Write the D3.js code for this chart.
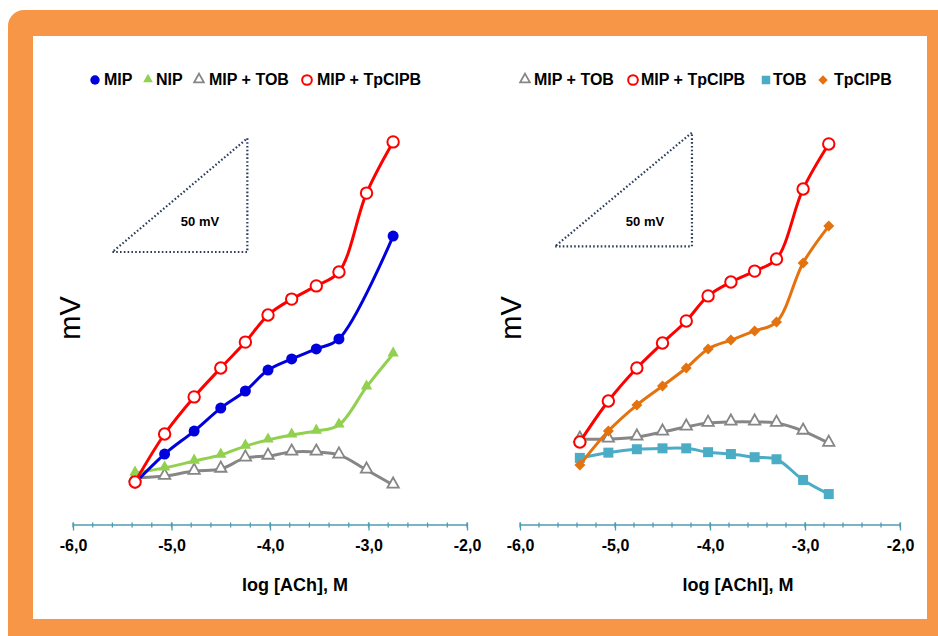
<!DOCTYPE html>
<html><head><meta charset="utf-8">
<script src="https://cdn.jsdelivr.net/npm/d3@7"></script>
<style>
body{margin:0;background:#fff;}
svg text{font-family:Arial,"Liberation Sans",sans-serif;}
</style>
</head><body>
<svg id="c" width="938" height="636"></svg>
<script>
// ---- data (log concentration, potential in mV) ----
const logC = [-5.37, -5.07, -4.77, -4.50, -4.25, -4.02, -3.78, -3.53, -3.30, -3.02, -2.75];
// left panel (ACh)
const mip       = [18.5, 31.2, 41.3, 51.4, 58.9, 68.1, 73.0, 77.4, 81.8, null, 127.0];
const nip       = [22.9, 25.1, 28.1, 30.8, 34.7, 37.4, 39.6, 41.3, 44.0, 60.7, 75.2];
const mipTobL   = [20.7, 21.5, 23.7, 24.6, 29.5, 30.3, 32.1, 32.1, 30.8, 24.2, 17.6];
const mipTpL    = [18.9, 40.0, 56.3, 69.0, 80.4, 92.3, 99.3, 105.1, 111.2, 145.9, 168.4];
// right panel (AChI)
const mipTobR   = [37.8, 37.8, 38.7, 40.9, 43.1, 44.8, 45.3, 45.3, 44.8, 41.3, 36.0];
const mipTpR    = [36.5, 54.5, 69.0, 80.0, 89.7, 100.7, 106.8, 111.6, 116.9, 147.7, 167.5];
const tob       = [29.5, 31.8, 33.3, 33.7, 33.7, 32.0, 31.2, 29.8, 28.9, 19.8, 13.6];
const tpclpb    = [26.4, 41.3, 52.7, 61.1, 69.0, 77.4, 81.3, 85.3, 89.2, 115.2, 131.4];
// axis ticks
const xMajor = [-6, -5, -4, -3, -2];
const xMinor = d3.range(0, 21).map(i => -6 + i * 0.2);
// slope triangles (50 mV)
const triLeft  = {x0: -5.60, x1: -4.23, y0: 120, y1: 170};
const triRight = {x0: -5.63, x1: -4.19, y0: 122.5, y1: 172.5};
const legendLeft  = ["MIP", "NIP", "MIP + TOB", "MIP + TpClPB"];
const legendRight = ["MIP + TOB", "MIP + TpClPB", "TOB", "TpClPB"];

const svg = d3.select("#c");
// frame
svg.append("rect").attr("x", 8).attr("y", 10).attr("width", 980).attr("height", 680)
  .attr("rx", 16).attr("fill", "#F79646");
svg.append("rect").attr("x", 33).attr("y", 36).attr("width", 894).attr("height", 583)
  .attr("fill", "#fff");

const y = d3.scaleLinear().domain([0, 180]).range([525, 525 - 180 * 2.275]);

const COL = {red: "#FF0000", blue: "#0000DD", green: "#92D050", gray: "#868686", teal: "#4BACC6", orange: "#E4720F"};

function marker(g, type, color, cx, cy, s) {
  s = s || 1;
  if (type === "circleF") g.append("circle").attr("cx", cx).attr("cy", cy).attr("r", 5.5 * s).attr("fill", color);
  else if (type === "circleO") g.append("circle").attr("cx", cx).attr("cy", cy).attr("r", 5.7 * s).attr("fill", "#fff").attr("stroke", color).attr("stroke-width", 2);
  else if (type === "triF" || type === "triO") {
    const p = `M${cx},${cy - 7.5 * s}L${cx + 5.7 * s},${cy + 2.7 * s}L${cx - 5.7 * s},${cy + 2.7 * s}Z`;
    const e = g.append("path").attr("d", p);
    if (type === "triF") e.attr("fill", color);
    else e.attr("fill", "#fff").attr("stroke", color).attr("stroke-width", 1.8);
  } else if (type === "square") g.append("rect").attr("x", cx - 5 * s).attr("y", cy - 5 * s).attr("width", 10 * s).attr("height", 10 * s).attr("fill", color);
  else if (type === "diamond") g.append("path").attr("d", `M${cx},${cy - 5.5 * s}L${cx + 5.5 * s},${cy}L${cx},${cy + 5.5 * s}L${cx - 5.5 * s},${cy}Z`).attr("fill", color);
}

function panel(opt) {
  const x = d3.scaleLinear().domain([-6, -2]).range(opt.xr);
  const g = svg.append("g");
  const axisCol = "#4E9DAF";
  // axis line
  g.append("line").attr("x1", x(-6)).attr("x2", x(-2)).attr("y1", 525).attr("y2", 525)
    .attr("stroke", axisCol).attr("stroke-width", 1.5);
  g.selectAll(".mn").data(xMinor).join("line")
    .attr("x1", d => x(d)).attr("x2", d => x(d)).attr("y1", 522.5).attr("y2", 527.5)
    .attr("stroke", axisCol).attr("stroke-width", 1.3);
  const ax = d3.axisBottom(x).tickValues(xMajor).tickSize(5.5).tickFormat(d => d.toFixed(1).replace(".", ","));
  const ag = g.append("g").attr("transform", "translate(0,525)").call(ax);
  ag.select(".domain").remove();
  ag.selectAll(".tick line").attr("y1", -2.5).attr("stroke", axisCol).attr("stroke-width", 1.3);
  ag.selectAll(".tick text").attr("y", 25.5).attr("dy", 0).attr("font-size", 16).attr("font-weight", "bold")
    .attr("fill", "#000").attr("font-family", "Arial, 'Liberation Sans', sans-serif");
  // titles
  g.append("text").attr("x", opt.titleX).attr("y", 591).attr("text-anchor", "middle")
    .attr("font-size", 18).attr("font-weight", "bold").text(opt.title);
  g.append("text").attr("transform", `translate(${opt.mvX},318) rotate(-90)`).attr("text-anchor", "middle")
    .attr("font-size", 29).text("mV");
  // slope triangle
  const t = opt.tri;
  g.append("path").attr("d", `M${x(t.x0)},${y(t.y0)}L${x(t.x1)},${y(t.y0)}L${x(t.x1)},${y(t.y1)}Z`)
    .attr("fill", "none").attr("stroke", "#2B3E5A").attr("stroke-width", 2.2).attr("stroke-dasharray", "1.6,2.2");
  g.append("text").attr("x", opt.mvTextX).attr("y", 226).attr("text-anchor", "middle")
    .attr("font-size", 13).attr("font-weight", "bold").text("50 mV");
  // series
  const line = d3.line().x(d => x(d[0])).y(d => y(d[1])).curve(d3.curveCatmullRom.alpha(0.5));
  opt.series.forEach(s => {
    const pts = logC.map((c, i) => [c, s.vals[i]]).filter(d => d[1] != null);
    g.append("path").attr("d", line(pts)).attr("fill", "none").attr("stroke", s.color).attr("stroke-width", 3);
    pts.forEach(d => marker(g, s.type, s.color, x(d[0]), y(d[1])));
  });
  // legend
  opt.legend.forEach(l => {
    marker(g, l.type, l.color, l.mx, 80, 0.85);
    g.append("text").attr("x", l.tx).attr("y", 85).attr("font-size", 16).attr("font-weight", "bold").text(l.label);
  });
}

panel({
  xr: [73, 467], title: "log [ACh], M", titleX: 295, mvX: 80, tri: triLeft, mvTextX: 200,
  series: [
    {vals: mipTobL, color: COL.gray, type: "triO"},
    {vals: nip, color: COL.green, type: "triF"},
    {vals: mip, color: COL.blue, type: "circleF"},
    {vals: mipTpL, color: COL.red, type: "circleO"}
  ],
  legend: [
    {label: legendLeft[0], color: COL.blue, type: "circleF", mx: 95, tx: 104},
    {label: legendLeft[1], color: COL.green, type: "triF", mx: 148, tx: 156},
    {label: legendLeft[2], color: COL.gray, type: "triO", mx: 199, tx: 209},
    {label: legendLeft[3], color: COL.red, type: "circleO", mx: 307, tx: 317}
  ]
});

panel({
  xr: [520, 900], title: "log [AChl], M", titleX: 738, mvX: 521, tri: triRight, mvTextX: 645,
  series: [
    {vals: mipTobR, color: COL.gray, type: "triO"},
    {vals: tob, color: COL.teal, type: "square"},
    {vals: tpclpb, color: COL.orange, type: "diamond"},
    {vals: mipTpR, color: COL.red, type: "circleO"}
  ],
  legend: [
    {label: legendRight[0], color: COL.gray, type: "triO", mx: 525, tx: 534},
    {label: legendRight[1], color: COL.red, type: "circleO", mx: 633, tx: 641},
    {label: legendRight[2], color: COL.teal, type: "square", mx: 766, tx: 773},
    {label: legendRight[3], color: COL.orange, type: "diamond", mx: 823, tx: 834}
  ]
});
</script>
</body></html>
